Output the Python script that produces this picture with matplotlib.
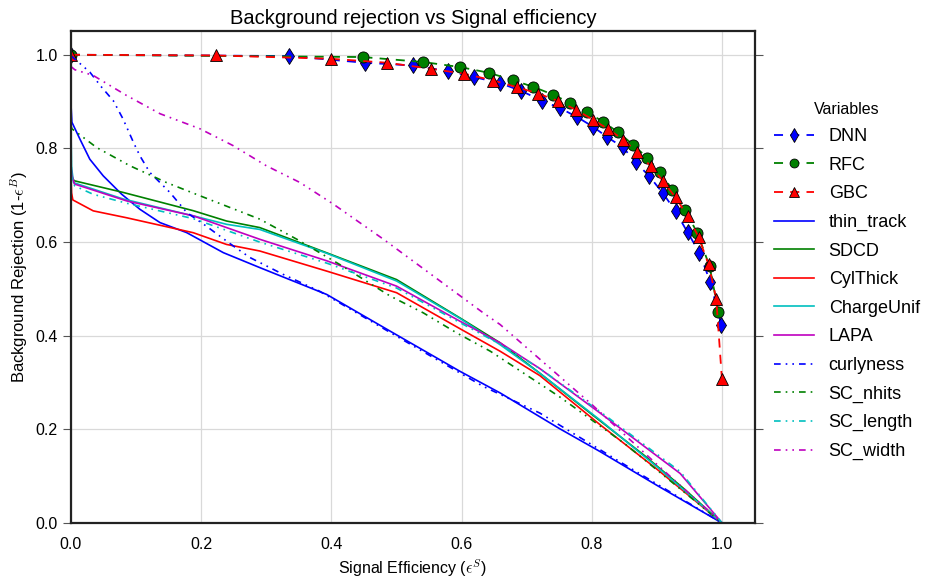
import numpy as np
import matplotlib
matplotlib.use("Agg")
import matplotlib.pyplot as plt

plt.rcParams['font.family'] = ['Liberation Sans', 'DejaVu Sans']
plt.rcParams['mathtext.fontset'] = 'cm'

# classifiers (marker curves)
dnn_x = [0.0, 0.3353, 0.4511, 0.5249, 0.5786, 0.6195, 0.6590, 0.6917, 0.7230, 0.7512, 0.7777,
         0.8014, 0.8238, 0.8475, 0.8674, 0.8883, 0.9089, 0.9283, 0.9467, 0.9651, 0.9816, 0.9985]
dnn_y = [1.0, 0.9972, 0.9829, 0.9771, 0.9651, 0.9522, 0.9394, 0.9225, 0.9021, 0.8859, 0.8666,
         0.8465, 0.8238, 0.8024, 0.7702, 0.7402, 0.7045, 0.6660, 0.6210, 0.5775, 0.5146, 0.4240]
rfc_x = [0.0, 0.4481, 0.5412, 0.5975, 0.6416, 0.6782, 0.7097, 0.7399, 0.7665, 0.7931, 0.8167,
         0.8402, 0.8631, 0.8852, 0.9048, 0.9236, 0.9432, 0.9620, 0.9805, 0.9942]
rfc_y = [1.0, 0.9951, 0.9844, 0.9737, 0.9615, 0.9460, 0.9315, 0.9150, 0.8972, 0.8773, 0.8572,
         0.8345, 0.8079, 0.7794, 0.7488, 0.7116, 0.6675, 0.6188, 0.5488, 0.4503]
gbc_x = [0.0, 0.2223, 0.3989, 0.4859, 0.5530, 0.6041, 0.6487, 0.6846, 0.7178, 0.7485, 0.7757,
         0.8014, 0.8244, 0.8484, 0.8699, 0.8905, 0.9089, 0.9283, 0.9467, 0.9636, 0.9790, 0.9908, 0.9995]
gbc_y = [1.0, 0.9985, 0.9914, 0.9829, 0.9700, 0.9593, 0.9450, 0.9308, 0.9171, 0.9009, 0.8822,
         0.8615, 0.8415, 0.8184, 0.7916, 0.7617, 0.7308, 0.6953, 0.6559, 0.6113, 0.5525, 0.4790, 0.3083]

# single variables
thin_x = [0.0, 0.0015, 0.0138, 0.029, 0.0496, 0.0778, 0.106, 0.1367, 0.1777, 0.234, 0.2903,
          0.3928, 0.495, 0.5975, 0.659, 0.75, 0.8126, 0.9, 1.0]
thin_y = [0.897, 0.856, 0.820, 0.777, 0.7415, 0.7024, 0.670, 0.6417, 0.6203, 0.5775, 0.5454,
          0.4882, 0.406, 0.324, 0.278, 0.202, 0.1527, 0.0805, 0.0]
sdcd_x = [0.0, 0.001, 0.005, 0.0804, 0.188, 0.239, 0.29, 0.393, 0.50, 0.5975, 0.659, 0.72, 0.80, 0.88, 0.94, 1.0]
sdcd_y = [0.75, 0.74, 0.731, 0.706, 0.667, 0.645, 0.631, 0.577, 0.520, 0.438, 0.385, 0.32, 0.232, 0.145, 0.075, 0.0]
cyl_x = [0.0, 0.001, 0.003, 0.0343, 0.0855, 0.188, 0.239, 0.290, 0.393, 0.50, 0.5975, 0.659, 0.72, 0.8126, 0.90, 1.0]
cyl_y = [0.745, 0.705, 0.690, 0.6667, 0.652, 0.620, 0.595, 0.581, 0.538, 0.492, 0.415, 0.367, 0.315, 0.21, 0.115, 0.0]
charge_x = [0.0, 0.001, 0.004, 0.0804, 0.188, 0.239, 0.29, 0.393, 0.50, 0.5975, 0.659, 0.72, 0.8126, 0.90, 1.0]
charge_y = [0.85, 0.76, 0.727, 0.692, 0.656, 0.638, 0.627, 0.576, 0.517, 0.437, 0.381, 0.32, 0.22, 0.12, 0.0]
lapa_x = [0.0, 0.001, 0.0055, 0.0855, 0.188, 0.239, 0.29, 0.393, 0.50, 0.5975, 0.659, 0.72, 0.8126, 0.9355, 1.0]
lapa_y = [0.77, 0.745, 0.724, 0.688, 0.656, 0.631, 0.606, 0.560, 0.506, 0.431, 0.385, 0.33, 0.235, 0.106, 0.0]
curly_x = [0.0, 0.029, 0.047, 0.065, 0.080, 0.096, 0.106, 0.121, 0.152, 0.178, 0.208, 0.249,
           0.275, 0.326, 0.382, 0.531, 0.633, 0.72, 0.85, 1.0]
curly_y = [0.998, 0.963, 0.931, 0.902, 0.863, 0.813, 0.784, 0.749, 0.706, 0.663, 0.634, 0.592,
           0.567, 0.531, 0.495, 0.374, 0.292, 0.235, 0.125, 0.0]
nhits_x = [0.0, 0.0015, 0.0394, 0.0906, 0.147, 0.198, 0.29, 0.347, 0.413, 0.49, 0.541, 0.5925, 0.644, 0.75, 0.85, 1.0]
nhits_y = [0.85, 0.842, 0.802, 0.763, 0.727, 0.699, 0.649, 0.606, 0.552, 0.485, 0.449, 0.406, 0.367, 0.27, 0.17, 0.0]
length_x = [0.0, 0.001, 0.0058, 0.0343, 0.0855, 0.188, 0.29, 0.393, 0.50, 0.5975, 0.659, 0.72, 0.8126, 0.9355, 1.0]
length_y = [0.80, 0.74, 0.72, 0.702, 0.683, 0.650, 0.600, 0.555, 0.502, 0.428, 0.382, 0.33, 0.238, 0.11, 0.0]
width_x = [0.0, 0.006, 0.034, 0.0855, 0.137, 0.198, 0.249, 0.30, 0.352, 0.403, 0.48, 0.557, 0.633, 0.659, 0.8, 0.9, 1.0]
width_y = [0.975, 0.968, 0.956, 0.913, 0.874, 0.842, 0.806, 0.763, 0.727, 0.681, 0.606, 0.527, 0.449, 0.424, 0.253, 0.125, 0.0]

fig = plt.figure(figsize=(9.33, 5.8), dpi=100)
ax = fig.add_axes([0.076, 0.098, 0.733, 0.848])

mk = dict(markeredgecolor='black', markeredgewidth=0.6, lw=1.3, dashes=(5, 4))
ax.plot(dnn_x, dnn_y, 'b--', marker='d', ms=8.5, label='DNN', **mk)
ax.plot(rfc_x, rfc_y, 'g--', marker='o', ms=8, label='RFC', **mk)
ax.plot(gbc_x, gbc_y, 'r--', marker='^', ms=8.5, label='GBC', **mk)

ax.plot(thin_x, thin_y, 'b-', lw=1.2, label='thin_track')
ax.plot(sdcd_x, sdcd_y, 'g-', lw=1.2, label='SDCD')
ax.plot(cyl_x, cyl_y, 'r-', lw=1.2, label='CylThick')
ax.plot(charge_x, charge_y, 'c-', lw=1.2, label='ChargeUnif')
ax.plot(lapa_x, lapa_y, 'm-', lw=1.2, label='LAPA')
dd = dict(lw=1.2, dashes=(4, 3, 1, 3, 1, 3))
ax.plot(curly_x, curly_y, 'b', label='curlyness', **dd)
ax.plot(nhits_x, nhits_y, 'g', label='SC_nhits', **dd)
ax.plot(length_x, length_y, 'c', label='SC_length', **dd)
ax.plot(width_x, width_y, 'm', label='SC_width', **dd)

ax.set_xlim(0, 1.05)
ax.set_ylim(0, 1.05)
ax.set_xticks([0.0, 0.2, 0.4, 0.6, 0.8, 1.0])
ax.set_yticks([0.0, 0.2, 0.4, 0.6, 0.8, 1.0])
ax.grid(True, color='#d9d9d9', lw=0.9)
ax.set_axisbelow(True)
for s in ax.spines.values():
    s.set_color('#222222')
    s.set_linewidth(1.6)
ax.tick_params(axis='y', which='both', left=True, right=True, direction='out',
               length=6, color='#555555', labelsize=11.5)
ax.tick_params(axis='x', length=0, labelsize=11.5, pad=10)

ax.set_title('Background rejection vs Signal efficiency', fontsize=14.5, pad=5)
ax.set_xlabel(r'Signal Efficiency ($\epsilon^S$)', fontsize=11.5)
ax.set_ylabel(r'Background Rejection (1-$\epsilon^B$)', fontsize=12)

leg = ax.legend(loc='upper left', bbox_to_anchor=(1.005, 0.89), frameon=False,
                title='Variables', fontsize=13, title_fontsize=11.5,
                handlelength=2.2, handletextpad=0.8, markerscale=0.8, labelspacing=0.64)

fig.savefig('out.png', dpi=100)
